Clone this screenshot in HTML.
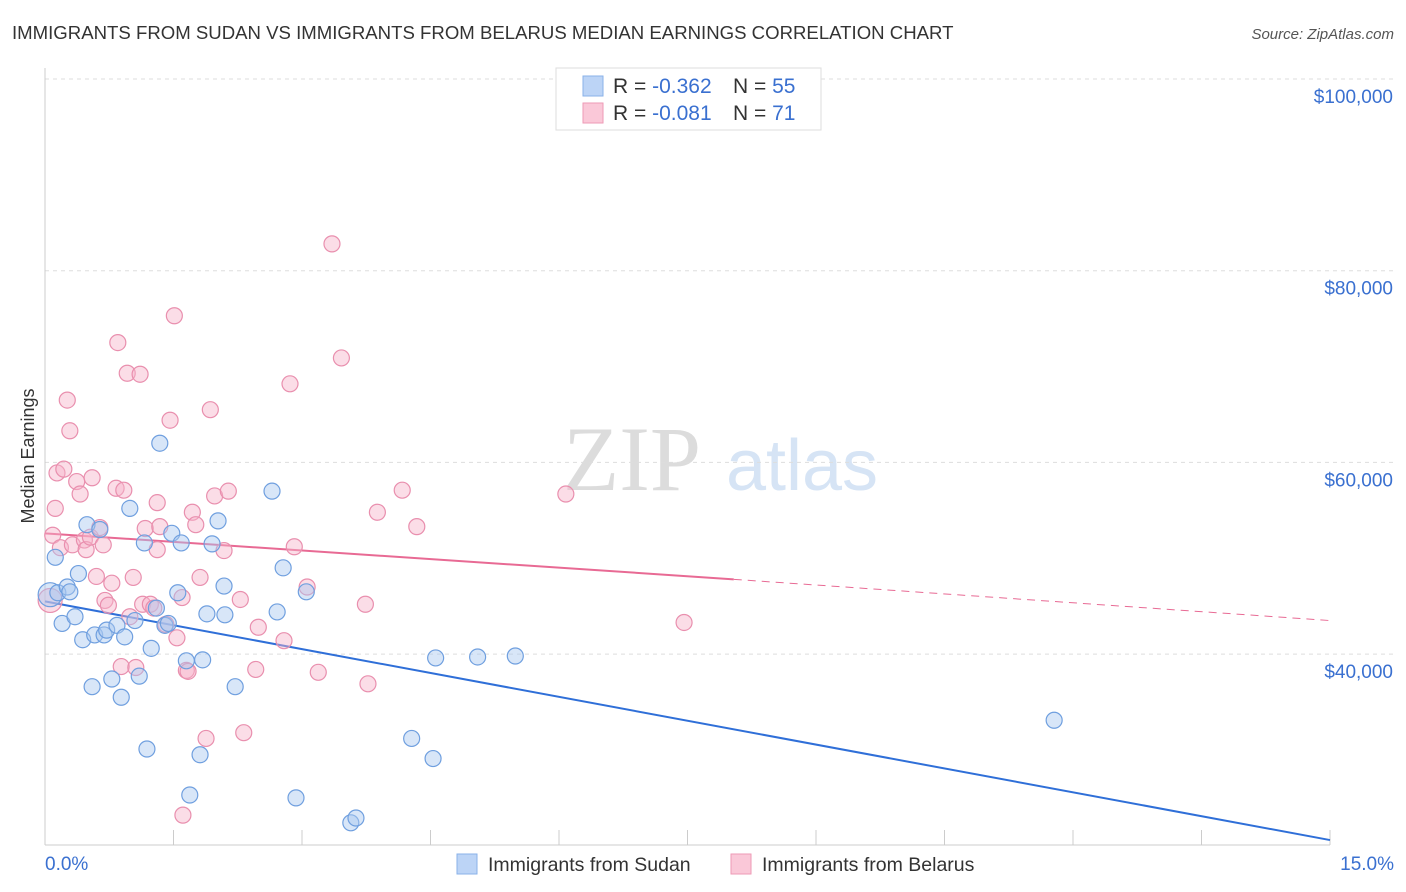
<!DOCTYPE html>
<html><head><meta charset="utf-8">
<style>
body{margin:0;background:#fff;font-family:"Liberation Sans",sans-serif;}
svg{display:block}
</style></head>
<body>
<svg id="chart" width="1406" height="892" xmlns="http://www.w3.org/2000/svg" font-family="Liberation Sans, sans-serif">
<text x="12" y="39" font-size="18.6" fill="#333">IMMIGRANTS FROM SUDAN VS IMMIGRANTS FROM BELARUS MEDIAN EARNINGS CORRELATION CHART</text>
<text x="1394" y="39" font-size="15" fill="#555" font-style="italic" text-anchor="end">Source: ZipAtlas.com</text>
<g>
<text x="632" y="490" font-size="92" fill="#dcdcdc" font-family="Liberation Serif, serif" text-anchor="middle">ZIP</text>
<text x="802" y="490" font-size="72" fill="#d6e4f5" text-anchor="middle">atlas</text>
</g>
<g id="grid"></g>
<g id="axes"></g>
<g id="lines"></g>
<g id="pts"></g>
<text transform="translate(34,456) rotate(-90)" font-size="18" fill="#333" text-anchor="middle">Median Earnings</text>
<g>
<rect x="556" y="68" width="265" height="62" fill="#fff" stroke="#ddd"/>
<rect x="583" y="76" width="20" height="20" fill="#bcd4f6" stroke="#8ab2e8"/>
<rect x="583" y="103" width="20" height="20" fill="#fac8d8" stroke="#ee9ab6"/>
<text x="613" y="93" font-size="21" fill="#333">R = <tspan fill="#3a70d0">-0.362</tspan></text>
<text x="733" y="93" font-size="21" fill="#333">N = <tspan fill="#3a70d0">55</tspan></text>
<text x="613" y="120" font-size="21" fill="#333">R = <tspan fill="#3a70d0">-0.081</tspan></text>
<text x="733" y="120" font-size="21" fill="#333">N = <tspan fill="#3a70d0"> 71</tspan></text>
</g>
<g>
<rect x="457" y="854" width="20" height="20" fill="#bcd4f6" stroke="#8ab2e8"/>
<text x="488" y="871" font-size="19.5" fill="#333">Immigrants from Sudan</text>
<rect x="731" y="854" width="20" height="20" fill="#fac8d8" stroke="#ee9ab6"/>
<text x="762" y="871" font-size="19.5" fill="#333">Immigrants from Belarus</text>
</g>
</svg>
<script>
const yTicks=[40000,60000,80000,100000];
const yTickLabels=["$40,000","$60,000","$80,000","$100,000"];
const xTickLabels=["0.0%","15.0%"];
const sudanX=[.06,.12,.15,.20,.26,.29,.35,.39,.44,.49,.55,.58,.64,.69,.72,.78,.84,.89,.93,.99,1.05,1.10,1.16,1.19,1.24,1.30,1.34,1.40,1.44,1.48,1.55,1.59,1.65,1.69,1.81,1.84,1.89,1.95,2.02,2.09,2.10,2.22,2.65,2.71,2.78,2.93,3.05,3.57,3.63,4.28,4.53,4.56,5.05,5.49,11.78];
const sudanY=[46.2,50.1,46.4,43.2,47.0,46.5,43.9,48.4,41.5,53.5,36.6,42.0,53.0,42.0,42.5,37.4,43.0,35.5,41.8,55.2,43.5,37.7,51.6,30.1,40.6,44.8,62.0,43.0,43.2,52.6,46.4,51.6,39.3,25.3,29.5,39.4,44.2,51.5,53.9,47.1,44.1,36.6,57.0,44.4,49.0,25.0,46.5,22.4,22.9,31.2,29.1,39.6,39.7,39.8,33.1];
const belarusX=[.06,.09,.12,.14,.18,.22,.26,.29,.32,.37,.41,.46,.48,.53,.55,.60,.64,.68,.70,.74,.78,.83,.85,.89,.92,.96,.99,1.03,1.06,1.11,1.14,1.17,1.23,1.27,1.31,1.31,1.34,1.41,1.46,1.51,1.54,1.60,1.65,1.72,1.76,1.81,1.88,1.93,1.98,2.09,2.14,2.28,2.32,2.46,2.49,2.79,2.86,2.91,3.06,3.19,3.35,3.46,3.74,3.77,3.88,4.17,4.34,6.08,7.46,1.61,1.67];
const belarusY=[45.6,52.4,55.2,58.9,51.1,59.3,66.5,63.3,51.4,58.0,56.7,51.9,50.9,52.2,58.4,48.1,53.2,51.4,45.6,45.1,47.4,57.3,72.5,38.7,57.1,69.3,43.9,48.0,38.6,69.2,45.2,53.1,45.2,44.8,55.8,50.9,53.3,43.1,64.4,75.3,41.7,45.9,38.3,54.8,53.5,48.0,31.2,65.5,56.5,50.8,57.0,45.7,31.8,38.4,42.8,41.4,68.2,51.2,47.0,38.1,82.8,70.9,45.2,36.9,54.8,57.1,53.3,56.7,43.3,23.2,38.2];
const sudanTrend=[[0,45.5],[15,20.6]];
const belarusTrendSolid=[[0,52.6],[8.04,47.8]];
const belarusTrendDash=[[8.04,47.8],[15,43.5]];

const NS="http://www.w3.org/2000/svg";
const X=v=>45+(v/15)*1285;
const Y=v=>79+(100000-v)/20000*191.7;
const Yk=v=>Y(v*1000);
function mk(tag,attrs,parent){const e=document.createElementNS(NS,tag);for(const k in attrs)e.setAttribute(k,attrs[k]);parent.appendChild(e);return e;}
const grid=document.getElementById('grid'),axes=document.getElementById('axes'),lines=document.getElementById('lines'),pts=document.getElementById('pts');
yTicks.forEach((t,i)=>{
  const l=mk('line',{x1:45,x2:1394,y1:Y(t),y2:Y(t),stroke:'#ddd','stroke-dasharray':'4,4'},grid);
  
  
  const tx=mk('text',{x:1393,y:Y(t)+24,'font-size':19,fill:'#3a70d0','text-anchor':'end'},axes);
  tx.textContent=yTickLabels[i];
  
  
});
mk('line',{x1:45,x2:1394,y1:Y(100000),y2:Y(100000),stroke:'#ddd','stroke-dasharray':'4,4'},grid);
mk('line',{x1:45,x2:45,y1:68,y2:845,stroke:'#ccc'},axes);
mk('line',{x1:45,x2:1330,y1:845,y2:845,stroke:'#ccc'},axes);
for(let i=0;i<=10;i++){mk('line',{x1:X(i*1.5),x2:X(i*1.5),y1:830,y2:845,stroke:'#ccc'},axes);}
[[0,'start',45],[1,'end',1394]].forEach(([i,a,x])=>{
  const t=mk('text',{x:x,y:870,'font-size':19,fill:'#3a70d0','text-anchor':a},axes);
  t.textContent=xTickLabels[i];
  
  
});
function seg(p,stroke,dash,name){const l=mk('line',{x1:X(p[0][0]),y1:Yk(p[0][1]),x2:X(p[1][0]),y2:Yk(p[1][1]),stroke:stroke,'stroke-width':dash?1:2},lines);if(dash)l.setAttribute('stroke-dasharray','8,6');}
seg(sudanTrend,'#2f6fd8',false,'sudan-trend-line');
seg(belarusTrendSolid,'#e86a94',false,'belarus-trend-line');
seg(belarusTrendDash,'#e86a94',true,'belarus-trend-extension');
function dots(xs,ys,fill,stroke,name){xs.forEach((x,i)=>{const c=mk('circle',{cx:X(x),cy:Yk(ys[i]),r:i===0?12:8,fill:fill,'fill-opacity':0.45,stroke:stroke,'stroke-width':1.2},pts);});}
dots(belarusX,belarusY,'#f6b4ca','#e98fae','belarus-point');
dots(sudanX,sudanY,'#a9c7f0','#6f9fdf','sudan-point');
</script>
</body></html>
